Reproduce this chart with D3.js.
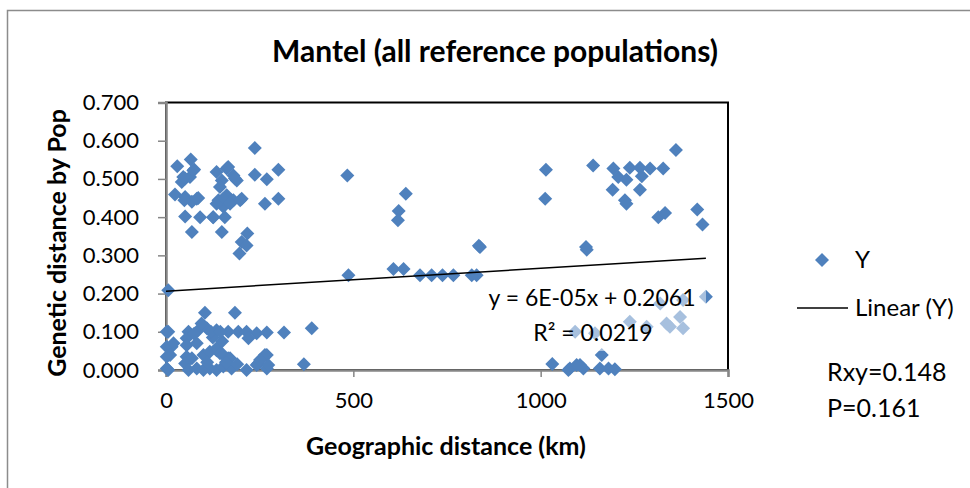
<!DOCTYPE html>
<html>
<head>
<meta charset="utf-8">
<script src="https://cdn.jsdelivr.net/npm/d3@7"></script>
<style>
  body { margin: 0; background: #fff; }
  svg { display: block; font-family: Lato, "Open Sans", sans-serif; }
</style>
</head>
<body>
<svg width="970" height="488"></svg>
<script>
// geographic distance (km) and genetic distance for each population pair
var distKm = [
  // upper-left group
  237, 30, 66, 75, 51, 64, 42, 24, 51, 86, 69, 51, 91, 69, 126, 149, 135, 162, 180, 149,
  189, 140, 162, 175, 202, 153, 157, 237, 269, 300, 264, 300, 217, 202, 215, 196,
  46, 73, 49, 82, 153, 180, 198, 126, 166, 184, 144, 135, 171,
  6,
  // lower-left group
  104, 184, 2, 6, 60, 86, 109, 135, 166, 193, 215, 242, 269, 315, 389, 95, 55, 220,
  2, 15, 20, 55, 82, 11, 2, 55, 69, 100, 117, 135, 135, 144, 153, 166, 171, 264, 269,
  2, 6, 51, 60, 82, 100, 117, 135, 153, 175, 215, 242, 246, 251, 269, 273, 368,
  75, 125, 150, 110, 160, 190, 120, 145,
  // middle
  484, 487, 607, 634, 678, 709, 738, 767, 816, 829, 838, 835, 621, 619, 640, 1014, 1012, 1031,
  // right
  1140, 1194, 1207, 1229, 1238, 1265, 1270, 1292, 1327, 1361, 1192, 1265, 1225, 1229,
  1314, 1332, 1418, 1432, 1121, 1123, 1441, 1092, 1145, 1238, 1283, 1336, 1372, 1380,
  1345, 1319, 1380, 1078, 1096, 1114, 1163, 1158, 1181, 1198, 1074, 1105
];
var genDist = [
  0.581, 0.533, 0.551, 0.525, 0.501, 0.505, 0.492, 0.459, 0.453, 0.450, 0.440, 0.402, 0.400, 0.361, 0.400, 0.361, 0.518, 0.527, 0.509, 0.496,
  0.496, 0.444, 0.457, 0.444, 0.448, 0.427, 0.400, 0.511, 0.499, 0.524, 0.435, 0.448, 0.357, 0.335, 0.326, 0.305,
  0.505, 0.522, 0.444, 0.448, 0.448, 0.444, 0.444, 0.400, 0.531, 0.501, 0.479, 0.435, 0.435,
  0.209,
  0.150, 0.150, 0.100, 0.100, 0.100, 0.104, 0.109, 0.104, 0.100, 0.100, 0.100, 0.096, 0.098, 0.098, 0.109, 0.122, 0.083, 0.083,
  0.061, 0.061, 0.070, 0.065, 0.070, 0.039, 0.035, 0.035, 0.031, 0.039, 0.048, 0.052, 0.057, 0.044, 0.039, 0.031, 0.031, 0.039, 0.039,
  0.004, 0.000, 0.017, 0.000, 0.004, 0.000, 0.004, 0.000, 0.009, 0.004, 0.000, 0.013, 0.017, 0.026, 0.004, 0.013, 0.015,
  0.095, 0.085, 0.075, 0.020, 0.020, 0.015, 0.100, 0.100,
  0.509, 0.248, 0.264, 0.264, 0.248, 0.248, 0.248, 0.248, 0.248, 0.248, 0.322, 0.325, 0.416, 0.392, 0.461, 0.524, 0.448, 0.016,
  0.535, 0.527, 0.505, 0.498, 0.529, 0.529, 0.507, 0.527, 0.527, 0.576, 0.472, 0.472, 0.444, 0.435,
  0.400, 0.411, 0.420, 0.381, 0.322, 0.315, 0.192, 0.100, 0.096, 0.126, 0.113, 0.122, 0.139, 0.109,
  0.113, 0.174, 0.183, 0.004, 0.013, 0.004, 0.039, 0.004, 0.004, 0.002, 0.000, 0.013
];
var xTicks = [0, 500, 1000, 1500];
var yTicks = [0, 0.1, 0.2, 0.3, 0.4, 0.5, 0.6, 0.7];
// Excel linear trendline
var slope = 0.00006;
var intercept = 0.2061;
var rSquared = "0.0219";
var rxy = "0.148";
var pValue = "0.161";

var svg = d3.select("svg");
var blue = "#4f81bd";
var axisGray = "#868686";

var plot = { left: 166, top: 102.5, right: 728, bottom: 370 };
var x = d3.scaleLinear().domain([0, 1500]).range([plot.left, plot.right]);
var y = d3.scaleLinear().domain([0, 0.7]).range([plot.bottom, plot.top]);

// outer chart border (runs off the picture on the right and bottom)
svg.append("rect")
  .attr("x", 7.5).attr("y", 10.5)
  .attr("width", 1000).attr("height", 600)
  .attr("fill", "none")
  .attr("stroke", "#8c8c8c")
  .attr("stroke-width", 1.5);

// title
svg.append("text")
  .attr("x", 495).attr("y", 62)
  .attr("text-anchor", "middle")
  .attr("font-size", "30px")
  .attr("font-weight", "bold")
  .text("Mantel (all reference populations)");

// plot area frame
svg.append("rect")
  .attr("x", plot.left).attr("y", plot.top)
  .attr("width", plot.right - plot.left)
  .attr("height", plot.bottom - plot.top)
  .attr("fill", "none")
  .attr("stroke", "#000")
  .attr("stroke-width", 2);

// axes
var yAxis = svg.append("g")
  .attr("transform", "translate(" + plot.left + ",0)")
  .call(d3.axisLeft(y).tickValues(yTicks).tickFormat(d3.format(".3f")).tickSize(8).tickPadding(19));
var xAxis = svg.append("g")
  .attr("transform", "translate(0," + plot.bottom + ")")
  .call(d3.axisBottom(x).tickValues(xTicks).tickFormat(d3.format("d")).tickSize(7).tickPadding(15));

[xAxis, yAxis].forEach(function (g) {
  g.selectAll("path").attr("stroke", axisGray).attr("stroke-width", 2.5);
  g.selectAll("line").attr("stroke", axisGray).attr("stroke-width", 1.5);
  g.selectAll("text")
    .attr("font-family", "Lato, sans-serif")
    .attr("font-size", "22px")
    .attr("fill", "#000");
});

// axis titles
svg.append("text")
  .attr("x", 446).attr("y", 455)
  .attr("text-anchor", "middle")
  .attr("font-size", "25px")
  .attr("font-weight", "bold")
  .text("Geographic distance (km)");

svg.append("text")
  .attr("transform", "translate(66,243) rotate(-90)")
  .attr("text-anchor", "middle")
  .attr("font-size", "25px")
  .attr("font-weight", "bold")
  .text("Genetic distance by Pop");

// scatter points
var diamond = "M0,-7L7,0L0,7L-7,0Z";
var points = distKm.map(function (d, i) { return { km: d, gd: genDist[i] }; });

svg.append("g")
  .selectAll("path")
  .data(points)
  .enter()
  .append("path")
  .attr("d", diamond)
  .attr("transform", (d) => "translate(" + x(d.km) + "," + y(d.gd) + ")")
  .attr("fill", blue);

// trendline over the range of the data
var xMax = d3.max(distKm);
svg.append("line")
  .attr("x1", x(0)).attr("y1", y(intercept))
  .attr("x2", x(xMax)).attr("y2", y(intercept + slope * xMax))
  .attr("stroke", "#000")
  .attr("stroke-width", 1.5);

// trendline label with half transparent background
svg.append("rect")
  .attr("x", 482).attr("y", 284)
  .attr("width", 224).attr("height", 67)
  .attr("fill", "#fff")
  .attr("fill-opacity", 0.5);

svg.append("text")
  .attr("x", 592).attr("y", 306)
  .attr("text-anchor", "middle")
  .attr("font-size", "23px")
  .text("y = 6E-05x + " + intercept);

svg.append("text")
  .attr("x", 593).attr("y", 341)
  .attr("text-anchor", "middle")
  .attr("font-size", "23px")
  .text("R² = " + rSquared);

// legend
svg.append("path")
  .attr("d", diamond)
  .attr("transform", "translate(822,260)")
  .attr("fill", blue);
svg.append("text")
  .attr("x", 855).attr("y", 268)
  .attr("font-size", "24px")
  .text("Y");

svg.append("line")
  .attr("x1", 797).attr("x2", 848)
  .attr("y1", 308).attr("y2", 308)
  .attr("stroke", "#000")
  .attr("stroke-width", 1.5);
svg.append("text")
  .attr("x", 855).attr("y", 316)
  .attr("font-size", "24px")
  .text("Linear (Y)");

// Mantel test results
svg.append("text")
  .attr("x", 827).attr("y", 381)
  .attr("font-size", "25px")
  .text("Rxy=" + rxy);
svg.append("text")
  .attr("x", 827).attr("y", 417)
  .attr("font-size", "25px")
  .text("P=" + pValue);
</script>
</body>
</html>
